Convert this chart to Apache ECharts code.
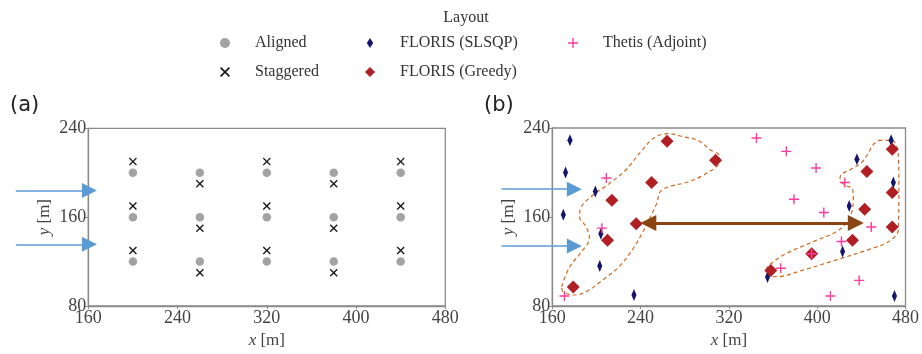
<!DOCTYPE html>
<html>
<head>
<meta charset="utf-8">
<script src="https://cdn.jsdelivr.net/npm/echarts@6/dist/echarts.min.js"></script>
<style>html,body{margin:0;padding:0;background:#fff;}#c{width:922px;height:354px;}</style>
</head>
<body>
<div id="c"></div>
<script>
// ---- data (metres) ----
const xTicks = [160, 240, 320, 400, 480];
const yTicks = [80, 160, 240];
const alignedPts = [
  [200,120],[200,160],[200,200],[260,120],[260,160],[260,200],
  [320,120],[320,160],[320,200],[380,120],[380,160],[380,200],
  [440,120],[440,160],[440,200]
];
const staggeredPts = [
  [200,130],[200,170],[200,210],[260,110],[260,150],[260,190],
  [320,130],[320,170],[320,210],[380,110],[380,150],[380,190],
  [440,130],[440,170],[440,210]
];
const slsqpPts = [
  [176,229],[172,200],[170,162],[199,183],[204,145],[203,116],[234,90],
  [467,229],[436,212],[469,191],[429,170],[423,129],[355,106],[470,89]
];
const greedyPts = [
  [264,228],[250,191],[214,175],[236,154],[210,139],[179,97],[308,211],
  [468,221],[445,201],[468,182],[443,167],[468,151],[432,139],[395,127],[358,112]
];
const thetisPts = [
  [209,195],[205,150],[171,89],[345,231],[372,219],[399,204],[379,176],[406,164],
  [425,191],[449,151],[422,138],[367,114],[438,103],[412,89],[395,127]
];
// inflow arrows [start, end] in data units
const inflowA = [[[95,184],[161,184]], [[95,135.5],[161,135.5]]];
const inflowB = [[[114,185],[180,185]], [[114,134],[180,134]]];
// brown double arrow
const shiftArrow = [[247,154.7],[435,154.7]];
// dashed cluster outlines
const clusterLeft = [
  [168.4,97.3],[175.8,115.2],[187.7,130.2],[193.7,140.7],[190.7,151.1],[184.7,160.1],
  [186.2,169.1],[196.6,179.6],[211.5,190],[226.4,202],[241.3,220],[253.2,231.8],
  [265.1,234.9],[280,231.8],[291.9,228.9],[303.8,220],[311.3,215.4],[311.3,209.4],
  [299.3,199],[282.9,191.5],[265.1,187],[257.7,182.5],[254.6,172.1],[248.8,160.1],
  [241.3,145.2],[232.3,130.2],[220.4,115.2],[205.5,103.3],[190.7,92.8],[178.8,89.9],
  [169.8,92.8],[168.4,97.3]
];
const clusterRight = [
  [455.5,228.9],[467.5,228.9],[473.4,217],[474,184],[473.4,148.2],[464.5,137.7],
  [449.6,131.7],[416.9,121.3],[387.1,112.3],[363.3,106.3],[355.9,107.8],[354.4,113.8],
  [360.4,119.7],[372.2,127.3],[396.1,137.7],[416.9,146.6],[427.3,155.6],[431.8,166.1],
  [432.7,178],[431.8,185.6],[425.2,188.5],[420.7,193.6],[421.3,197.5],[431.8,203.5],
  [440.7,209.4],[446.1,217],[450.2,224.4],[455.5,228.9]
];

// ---- styles ----
const SERIF = 'Liberation Serif';
const AX = '#8a8a8a';
const X_PATH = 'path://M1.2,0 L5,3.8 L8.8,0 L10,1.2 L6.2,5 L10,8.8 L8.8,10 L5,6.2 L1.2,10 L0,8.8 L3.8,5 L0,1.2 Z';
const PLUS_PATH = 'path://M4.3,0 H5.7 V4.3 H10 V5.7 H5.7 V10 H4.3 V5.7 H0 V4.3 H4.3 Z';
const THIN_D = 'path://M3.5,0 L7,5.5 L3.5,11 L0,5.5 Z';

function xAxisCfg(i){
  return {
    gridIndex:i, type:'value', min:xTicks[0], max:xTicks[xTicks.length-1], interval:80,
    axisLine:{show:true,onZero:false,lineStyle:{color:AX,width:1.3}},
    axisTick:{show:true,length:3,lineStyle:{color:AX,width:1}},
    splitLine:{show:false},
    axisLabel:{fontFamily:SERIF,fontSize:18,color:'#444',margin:3},
    name:'{i|x} [m]', nameLocation:'middle', nameGap:25,
    nameTextStyle:{fontFamily:SERIF,fontSize:17,color:'#444',rich:{i:{fontFamily:SERIF,fontSize:17,fontStyle:'italic',color:'#444'}}}
  };
}
function yAxisCfg(i){
  return {
    gridIndex:i, type:'value', min:yTicks[0], max:yTicks[yTicks.length-1], interval:80,
    axisLine:{show:true,onZero:false,lineStyle:{color:AX,width:1.3}},
    axisTick:{show:true,length:3,lineStyle:{color:AX,width:1}},
    splitLine:{show:false},
    axisLabel:{fontFamily:SERIF,fontSize:18,color:'#444',margin:2},
    name:'{i|y} [m]', nameLocation:'middle', nameGap:35, nameRotate:90,
    nameTextStyle:{fontFamily:SERIF,fontSize:17,color:'#444',rich:{i:{fontFamily:SERIF,fontSize:17,fontStyle:'italic',color:'#444'}}}
  };
}
function arrowSeries(i, arr){
  return {
    type:'lines', coordinateSystem:'cartesian2d', xAxisIndex:i, yAxisIndex:i, clip:false, silent:true,
    symbol:['none','triangle'], symbolSize:15, z:5,
    lineStyle:{color:'#5b9bd5',width:1.5,opacity:1,curveness:0},
    data: arr.map(c => ({coords:c}))
  };
}
function outline(i, pts){
  return {
    type:'line', xAxisIndex:i, yAxisIndex:i, data:pts, showSymbol:false, smooth:0.35,
    clip:false, silent:true, z:1,
    lineStyle:{color:'#d2691e',width:1.2,type:[4,3]}
  };
}

const legendText = {fontFamily:SERIF,fontSize:16,color:'#333',padding:[0,0,0,20],lineHeight:16};
const legendBase = {orient:'vertical', top:35, itemWidth:10, itemHeight:10, itemGap:13, padding:0, textStyle:legendText, selectedMode:false};
const chart = echarts.init(document.getElementById('c'), null, {renderer:'canvas'});
chart.setOption({
  animation:false,
  title:{text:'Layout', left:461, top:5, textAlign:'center',
    textStyle:{fontFamily:SERIF,fontSize:16,fontWeight:'normal',color:'#333'}},
  legend:[
    Object.assign({data:['Aligned','Staggered'], left:220}, legendBase),
    Object.assign({data:['FLORIS (SLSQP)','FLORIS (Greedy)'], left:365}, legendBase),
    Object.assign({data:['Thetis (Adjoint)'], left:568}, legendBase)
  ],
  graphic:[
    {type:'text', left:10, top:95, style:{text:'(a)', font:'21px "DejaVu Sans"', fill:'#222'}},
    {type:'text', left:484, top:95, style:{text:'(b)', font:'21px "DejaVu Sans"', fill:'#222'}}
  ],
  grid:[
    {left:88.3, top:128.3, width:357, height:177.7, show:true, borderColor:AX, borderWidth:1.3, backgroundColor:'transparent'},
    {left:552.3, top:128, width:358.4, height:178, show:true, borderColor:AX, borderWidth:1.3, backgroundColor:'transparent'}
  ],
  xAxis:[xAxisCfg(0), xAxisCfg(1)],
  yAxis:[yAxisCfg(0), yAxisCfg(1)],
  series:[
    outline(1, clusterLeft),
    outline(1, clusterRight),
    {name:'Aligned', type:'scatter', xAxisIndex:0, yAxisIndex:0, data:alignedPts, symbol:'circle', symbolSize:8.5,
      itemStyle:{color:'#a3a3a3',opacity:1}, z:3},
    {name:'Staggered', type:'scatter', xAxisIndex:0, yAxisIndex:0, data:staggeredPts, symbol:X_PATH, symbolSize:8,
      itemStyle:{color:'#1a1a1a',opacity:1}, z:3},
    {name:'FLORIS (SLSQP)', type:'scatter', xAxisIndex:1, yAxisIndex:1, data:slsqpPts, symbol:THIN_D, symbolSize:[8,12], symbolKeepAspect:true,
      itemStyle:{color:'#15166b',opacity:1}, z:3},
    {name:'FLORIS (Greedy)', type:'scatter', xAxisIndex:1, yAxisIndex:1, data:greedyPts, symbol:'diamond', symbolSize:13,
      itemStyle:{color:'#b01f24',opacity:1}, z:3},
    {name:'Thetis (Adjoint)', type:'scatter', xAxisIndex:1, yAxisIndex:1, data:thetisPts, symbol:PLUS_PATH, symbolSize:10,
      itemStyle:{color:'#ff3a9e',opacity:1}, z:4},
    arrowSeries(0, inflowA),
    arrowSeries(1, inflowB),
    {type:'lines', coordinateSystem:'cartesian2d', xAxisIndex:1, yAxisIndex:1, clip:false, silent:true,
      symbol:['triangle','triangle'], symbolSize:16, z:6,
      lineStyle:{color:'#8b4513',width:3,opacity:1,curveness:0},
      data:[{coords:shiftArrow}]}
  ]
});
</script>
</body>
</html>
